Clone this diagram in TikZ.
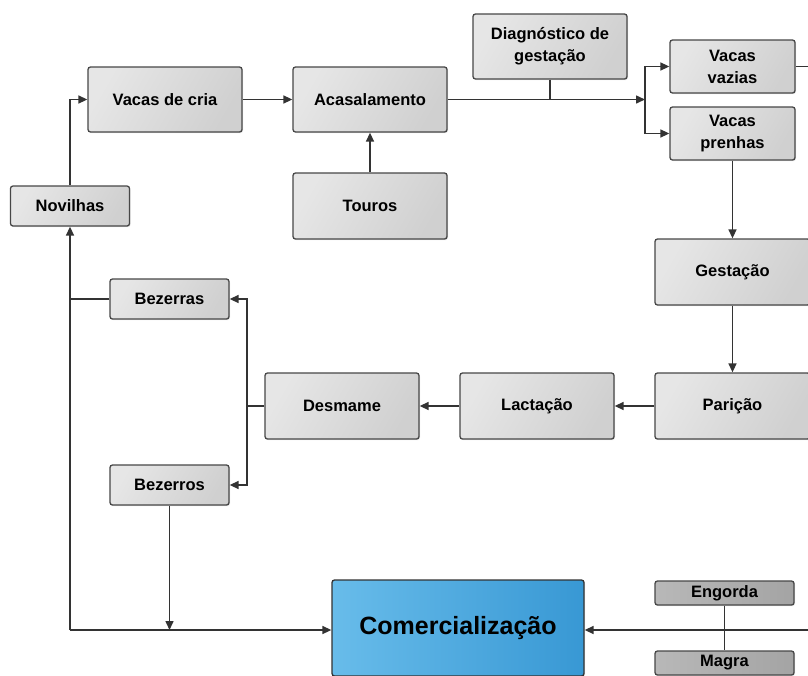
\documentclass[tikz,border=0pt]{standalone}
\usepackage{fontspec}
\setmainfont{Liberation Sans}
\usetikzlibrary{arrows.meta,shadows}
\definecolor{linegray}{HTML}{333333}
\definecolor{boxline}{HTML}{474747}
\definecolor{boxlight}{HTML}{E6E6E6}
\definecolor{boxdark}{HTML}{D0D0D0}
\definecolor{smalllight}{HTML}{B8B8B8}
\definecolor{smalldark}{HTML}{A4A4A4}
\definecolor{bluelight}{HTML}{68BCEA}
\definecolor{bluedark}{HTML}{3898D4}
\tikzset{
	stage/.style={draw=boxline, line width=1.3pt, rounded corners=2.5pt,
		left color=boxlight, right color=boxdark, shading angle=60,
		drop shadow={opacity=0.2, shadow xshift=1pt, shadow yshift=-1.2pt},
		inner sep=0pt, align=center, text=black,
		font=\bfseries\fontsize{16.5}{22}\selectfont},
	substage/.style={stage, left color=smalllight, right color=smalldark},
	market/.style={stage, left color=bluelight, right color=bluedark, draw=linegray,
		font=\bfseries\fontsize{25}{30}\selectfont},
	link/.style={draw=linegray, line width=1.5pt},
	flow/.style={link, -{Triangle[length=9pt,width=8pt]}}
}
\begin{document}
\begin{tikzpicture}[x=1pt, y=-1pt]
			%%%%% START %%%%%
			\useasboundingbox (0,0) rectangle (808,675);
			\clip (0,0) rectangle (808,675);
			
			\node[stage, minimum width=154pt, minimum height=65pt] (cria) at (165, 99.5) {Vacas de cria};
			\node[stage, minimum width=154pt, minimum height=65pt] (acasal) at (370, 99.5) {Acasalamento};
			\node[stage, minimum width=154pt, minimum height=66pt] (touros) at (370, 206) {Touros};
			\node[stage, minimum width=154pt, minimum height=65pt] (diag) at (550, 46.5) {Diagnóstico de\\gestação};
			\node[stage, minimum width=125pt, minimum height=53pt] (vazias) at (732.5, 66.5) {Vacas\\vazias};
			\node[stage, minimum width=125pt, minimum height=53pt] (prenhas) at (732.5, 133.5) {Vacas\\prenhas};
			\node[stage, minimum width=119pt, minimum height=40pt] (novilhas) at (70, 206) {Novilhas};
			
			\node[stage, minimum width=155pt, minimum height=66pt] (gestacao) at (732.5, 272) {Gestação};
			\node[stage, minimum width=155pt, minimum height=66pt] (paricao) at (732.5, 406) {Parição};
			\node[stage, minimum width=154pt, minimum height=66pt] (lactacao) at (537, 406) {Lactação};
			\node[stage, minimum width=154pt, minimum height=66pt] (desmame) at (342, 406) {Desmame};
			\node[stage, minimum width=119pt, minimum height=40pt] (bezerras) at (169.5, 299) {Bezerras};
			\node[stage, minimum width=119pt, minimum height=40pt] (bezerros) at (169.5, 485) {Bezerros};
			
			\node[market, minimum width=252pt, minimum height=96pt] (comerc) at (458, 628) {Comercialização};
			\node[substage, minimum width=139pt, minimum height=24pt] (engorda) at (724.5, 593) {Engorda};
			\node[substage, minimum width=139pt, minimum height=24pt] (magra) at (724.5, 663) {Magra};
			
			% junctions and free ends
			\coordinate (split) at (645, 99.5);
			\coordinate (wean) at (247, 406);
			\coordinate (corner) at (70, 630);
			\coordinate (vaziasout) at (815, 66.5);
			\coordinate (rightin) at (815, 630);
			
			\draw[flow] (novilhas.north) |- (cria.west);
			\draw[flow] (cria) -- (acasal);
			\draw[flow] (touros) -- (acasal);
			\draw[flow] (acasal.east) -- (split);
			\draw[link] (diag.south) -- (diag.south |- split);
			\draw[flow] (split) |- (vazias.west);
			\draw[flow] (split) |- (prenhas.west);
			\draw[link] (vazias.east) -- (vaziasout);
			
			\draw[flow] (prenhas) -- (gestacao);
			\draw[flow] (gestacao) -- (paricao);
			\draw[flow] (paricao) -- (lactacao);
			\draw[flow] (lactacao) -- (desmame);
			\draw[link] (desmame.west) -- (wean);
			\draw[flow] (wean) |- (bezerras.east);
			\draw[flow] (wean) |- (bezerros.east);
			
			\draw[link] (bezerras.west) -- (bezerras.west -| corner);
			\draw[flow] (corner) -- (novilhas.south);
			\draw[flow] (corner) -- (corner -| comerc.west);
			\draw[flow] (bezerros.south) -- (bezerros.south |- corner);
			\draw[flow] (rightin) -- (rightin -| comerc.east);
			\draw[link] (engorda) -- (magra);
			
			%%%%% END %%%%%
		\end{tikzpicture}
\end{document}
